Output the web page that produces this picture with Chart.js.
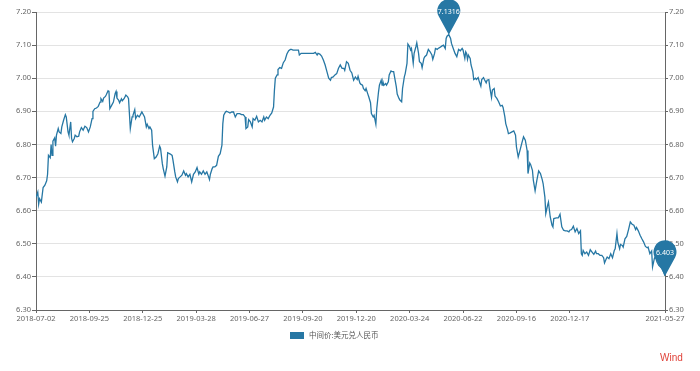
<!DOCTYPE html>
<html>
<head>
<meta charset="utf-8">
<script src="https://cdn.jsdelivr.net/npm/chart.js@4.4.1/dist/chart.umd.min.js"></script>
<style>
  body { margin: 0; background: #fff; }
  #wrap { position: relative; width: 700px; height: 371px; }
</style>
</head>
<body>
<div id="wrap"><canvas id="rateChart"></canvas></div>
<script>
// USD/CNY central parity (x = trading day since 2018-07-02)
const seriesName = "中间价:美元兑人民币";
const tickDays = [0, 60, 120, 180, 240, 300, 360, 420, 480, 540, 600, 707];
const tickLabels = ["2018-07-02", "2018-09-25", "2018-12-25", "2019-03-28", "2019-06-27", "2019-09-20",
  "2019-12-20", "2020-03-24", "2020-06-22", "2020-09-16", "2020-12-17", "2021-05-27"];

const days = [
  0, 2, 3, 4, 6, 8, 10, 12, 13, 14, 16, 17, 18, 19, 21, 22, 23, 25, 26, 28, 29, 31, 33, 34, 36, 37, 39, 40,
  41, 43, 44, 46, 48, 49, 51, 53, 55, 57, 59, 61, 63, 64, 66, 68, 70, 72, 73, 75, 76, 78, 79, 81, 82, 83,
  85, 87, 89, 90, 91, 93, 94, 96, 97, 99, 101, 103, 104, 106, 108, 109, 111, 112, 114, 116, 118, 119, 121,
  122, 124, 125, 127, 128, 130, 131, 133, 135, 137, 139, 140, 142, 143, 145, 147, 148, 151, 153, 154, 156,
  157, 159, 160, 162, 164, 166, 168, 169, 171, 173, 175, 177, 179, 181, 183, 184, 186, 188, 190, 192, 194,
  195, 196, 198, 199, 201, 203, 205, 207, 209, 210, 211, 213, 214, 216, 218, 220, 222, 224, 226, 228, 229,
  231, 233, 235,
  236, 238, 239, 241, 243, 244, 246, 248, 250, 252, 254, 256, 257, 259, 261, 263, 265, 267, 268, 269, 271,
  272, 274, 276, 278, 280, 282, 284, 286, 287, 289, 291, 293, 295, 296, 298, 301, 304, 308, 312, 314, 316,
  317, 319, 321, 323, 325, 327, 329, 331, 332, 334, 336, 338, 340, 342, 344, 346, 347, 349, 351, 353, 355,
  357, 359, 361, 362, 364, 365, 367, 368, 370, 371, 373, 374, 376, 377, 379, 380, 382, 383, 385, 386, 388,
  389, 390, 391, 393, 394, 396, 397, 399, 400, 402, 403, 405, 406, 408, 409, 411, 412, 414, 415, 417, 418,
  420, 421, 422, 424, 425, 427, 428, 430, 431, 433, 434, 436, 437, 439, 441, 443, 445, 446, 448, 449, 451,
  452, 454, 456, 458, 460, 461, 462, 464, 466, 467, 469,
  471, 473, 475, 477, 479, 480, 482, 483, 484, 485, 486, 488, 489, 491, 492, 494, 495, 497, 498, 500, 501,
  503, 504, 506, 507, 509, 510, 512, 513, 515, 516, 518, 520, 522, 524, 525, 527, 528, 530, 531, 533, 535,
  537, 539, 540, 542, 544, 546, 548, 550, 552, 553, 555, 556, 558, 559, 561, 563, 565, 567, 569, 570, 572,
  573, 575, 576, 578, 580, 581, 582, 585, 587, 589, 591, 593, 595, 597, 599, 600, 602, 604, 606, 608, 610,
  612, 613, 614, 615, 617, 619, 621, 623, 625, 627, 629, 630, 632, 634, 636, 638, 639, 641, 642, 644, 646,
  648, 650, 651, 653, 654, 656, 657, 659, 660, 662, 664, 666, 668, 670, 672, 674, 675, 677, 679, 681, 683,
  685, 687, 688, 690, 692, 693, 695, 696, 698, 700, 702, 704, 707
];

const rates = [
  6.640, 6.656, 6.620, 6.636, 6.626, 6.670, 6.677, 6.690, 6.710, 6.767, 6.760, 6.800, 6.767, 6.810, 6.820,
  6.795, 6.828, 6.848, 6.838, 6.833, 6.853, 6.873, 6.890, 6.883, 6.838, 6.828, 6.868, 6.818, 6.808, 6.818,
  6.828, 6.823, 6.825, 6.838, 6.851, 6.843, 6.855, 6.851, 6.838, 6.853, 6.878, 6.900, 6.908, 6.910, 6.915,
  6.928, 6.938, 6.930, 6.940, 6.945, 6.950, 6.962, 6.960, 6.908, 6.918, 6.928, 6.954, 6.960, 6.940, 6.933,
  6.926, 6.938, 6.932, 6.938, 6.949, 6.944, 6.938, 6.848, 6.883, 6.888, 6.905, 6.878, 6.888, 6.883, 6.893,
  6.898, 6.888, 6.883, 6.853, 6.861, 6.848, 6.853, 6.843, 6.798, 6.757, 6.762, 6.772, 6.795, 6.788, 6.742,
  6.727, 6.704, 6.732, 6.775, 6.771, 6.767, 6.752, 6.717, 6.702, 6.687, 6.697, 6.702, 6.707, 6.720, 6.707,
  6.712, 6.702, 6.710, 6.687, 6.710, 6.717, 6.730, 6.710, 6.717, 6.710, 6.720, 6.710, 6.717, 6.702, 6.694,
  6.710, 6.727, 6.732, 6.732, 6.737, 6.764, 6.772, 6.798, 6.863, 6.888, 6.898, 6.900, 6.898, 6.895, 6.898,
  6.898, 6.883, 6.893, 6.893, 6.893, 6.890, 6.890, 6.883,
  6.848, 6.853, 6.875, 6.868, 6.853, 6.878, 6.873, 6.885, 6.868, 6.873, 6.868, 6.883, 6.873, 6.883, 6.878,
  6.888, 6.895, 6.913, 6.964, 7.000, 7.010, 7.026, 7.032, 7.030, 7.047, 7.055, 7.073, 7.083, 7.087, 7.087,
  7.085, 7.085, 7.085, 7.085, 7.070, 7.075, 7.075, 7.075, 7.075, 7.075, 7.078, 7.070, 7.075, 7.073, 7.067,
  7.055, 7.040, 7.020, 7.000, 6.994, 7.002, 7.004, 7.010, 7.014, 7.030, 7.040, 7.030, 7.030, 7.024, 7.050,
  7.045, 7.024, 7.016, 6.994, 7.004, 6.996, 7.006, 6.986, 6.982, 6.979, 6.969, 6.962, 6.969, 6.952, 6.944,
  6.926, 6.893, 6.883, 6.888, 6.861, 6.908, 6.959, 6.979, 6.994, 6.979, 6.989, 6.979, 6.984, 6.979, 6.989,
  7.010, 7.022, 7.020, 7.020, 7.004, 6.974, 6.952, 6.939, 6.934, 6.929, 6.969, 7.004, 7.014, 7.045, 7.103,
  7.095, 7.085, 7.090, 7.045, 7.075, 7.095, 7.107, 7.075, 7.050, 7.045, 7.032, 7.060, 7.065, 7.070, 7.087,
  7.080, 7.070, 7.057, 7.075, 7.090, 7.087, 7.090, 7.093, 7.097, 7.100, 7.090, 7.120, 7.127, 7.1316, 7.120,
  7.105, 7.090,
  7.075, 7.065, 7.087, 7.083, 7.090, 7.085, 7.060, 7.080, 7.075, 7.057, 7.070, 7.060, 7.040, 7.020, 6.996,
  7.000, 6.996, 7.002, 6.992, 6.976, 6.996, 7.002, 6.996, 6.986, 6.994, 6.996, 6.974, 6.942, 6.964, 6.969,
  6.946, 6.939, 6.929, 6.916, 6.918, 6.912, 6.883, 6.863, 6.845, 6.833, 6.835, 6.838, 6.841, 6.828, 6.793,
  6.762, 6.782, 6.803, 6.823, 6.813, 6.782, 6.712, 6.744, 6.739, 6.722, 6.692, 6.660, 6.692, 6.720, 6.712,
  6.694, 6.682, 6.641, 6.591, 6.616, 6.626, 6.581, 6.556, 6.551, 6.576, 6.578, 6.578, 6.589, 6.551, 6.541,
  6.539, 6.539, 6.536, 6.541, 6.543, 6.553, 6.536, 6.546, 6.531, 6.539, 6.470, 6.465, 6.480, 6.470, 6.475,
  6.465, 6.482, 6.475, 6.468, 6.478, 6.470, 6.470, 6.465, 6.465, 6.458, 6.442, 6.455, 6.460, 6.455, 6.470,
  6.458, 6.480, 6.485, 6.531, 6.504, 6.485, 6.498, 6.495, 6.490, 6.515, 6.522, 6.543, 6.566, 6.559, 6.556,
  6.543, 6.549, 6.539, 6.526, 6.515, 6.505, 6.492, 6.488, 6.490, 6.470, 6.478, 6.430, 6.455, 6.462, 6.445,
  6.435, 6.430, 6.425, 6.403
];

const lineColor = "#2677a4";
const axisColor = "#666";
const tickFont = { family: "'Noto Sans', 'Noto Sans CJK SC', sans-serif", size: 7.5 };

// balloon markers on the highest and the latest value
const pinMarkers = {
  id: "pinMarkers",
  afterDatasetsDraw(chart) {
    const { ctx } = chart;
    const meta = chart.getDatasetMeta(0);
    const pts = chart.data.datasets[0].data;
    let maxI = 0;
    pts.forEach((p, i) => { if (p.y > pts[maxI].y) maxI = i; });
    [maxI, pts.length - 1].forEach(i => {
      const el = meta.data[i];
      const r = 11.5, d = 24;
      const cx = el.x, cy = el.y - d;
      const phi = Math.acos(r / d);
      ctx.save();
      ctx.fillStyle = lineColor;
      ctx.beginPath();
      ctx.moveTo(el.x, el.y);
      ctx.lineTo(cx + r * Math.cos(Math.PI / 2 - phi), cy + r * Math.sin(Math.PI / 2 - phi));
      ctx.arc(cx, cy, r, Math.PI / 2 - phi, Math.PI / 2 + phi, true);
      ctx.closePath();
      ctx.fill();
      ctx.fillStyle = "#fff";
      ctx.font = "7px 'Noto Sans', sans-serif";
      ctx.textAlign = "center";
      ctx.textBaseline = "middle";
      ctx.fillText(String(pts[i].y), cx, cy + 1);
      ctx.restore();
    });
  }
};

// legend + source note under the plot
const footerText = {
  id: "footerText",
  afterDraw(chart) {
    const { ctx } = chart;
    ctx.save();
    ctx.fillStyle = lineColor;
    ctx.fillRect(290, 332, 14, 7);
    ctx.fillStyle = "#555";
    ctx.font = "7.5px 'Noto Sans CJK SC', sans-serif";
    ctx.textBaseline = "middle";
    ctx.fillText(seriesName, 309, 335.5);
    ctx.fillStyle = "#e0433a";
    ctx.font = "10px 'Liberation Sans', sans-serif";
    ctx.textBaseline = "alphabetic";
    ctx.fillText("Wind", 660, 361);
    ctx.restore();
  }
};

const ctx = document.getElementById("rateChart").getContext("2d");

new Chart(ctx, {
  type: "line",
  data: {
    datasets: [{
      label: seriesName,
      data: days.map((d, i) => ({ x: d, y: rates[i] })),
      borderColor: lineColor,
      borderWidth: 1.3,
      pointRadius: 0,
      tension: 0,
      fill: false
    }]
  },
  options: {
    responsive: true,
    maintainAspectRatio: false,
    animation: false,
    layout: { padding: { top: 12, left: 0, right: 0, bottom: 0 } },
    plugins: {
      legend: { display: false },
      tooltip: { enabled: false }
    },
    scales: {
      x: {
        type: "linear",
        min: 0,
        max: 707,
        afterBuildTicks: s => { s.ticks = tickDays.map(v => ({ value: v })); },
        afterFit: s => { s.height = 61; },
        border: { color: axisColor },
        grid: { drawOnChartArea: false, tickLength: 3, tickColor: axisColor },
        ticks: {
          autoSkip: false,
          maxRotation: 0,
          padding: 1,
          color: "#666",
          font: tickFont,
          callback: v => tickLabels[tickDays.indexOf(v)]
        }
      },
      y: {
        position: "left",
        min: 6.3,
        max: 7.2,
        afterFit: s => { s.width = 36; },
        border: { color: axisColor },
        grid: { color: "#e3e3e3", tickColor: axisColor, tickLength: 4 },
        ticks: { stepSize: 0.1, padding: 1, color: "#666", font: tickFont, callback: v => v.toFixed(2) }
      },
      y2: {
        position: "right",
        display: true,
        min: 6.3,
        max: 7.2,
        afterFit: s => { s.width = 35; },
        border: { color: axisColor },
        grid: { drawOnChartArea: false, tickColor: axisColor, tickLength: 3 },
        ticks: { stepSize: 0.1, padding: 1, color: "#666", font: tickFont, callback: v => v.toFixed(2) }
      }
    }
  },
  plugins: [pinMarkers, footerText]
});
</script>
</body>
</html>
